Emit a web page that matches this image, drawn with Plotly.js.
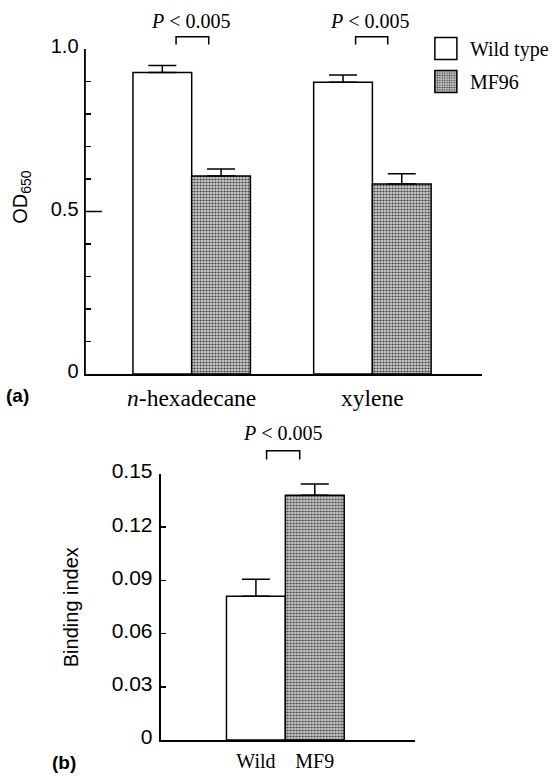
<!DOCTYPE html>
<html>
<head>
<meta charset="utf-8">
<script src="https://cdn.plot.ly/plotly-3.0.1.min.js"></script>
<style>html,body{margin:0;padding:0;background:#fff;}#chart{width:554px;height:776px;}</style>
</head>
<body>
<div id="chart"></div>
<script>
// ---- data ----
const categoriesA = ['n-hexadecane', 'xylene'];
const tickLabelsA = ['<i>n</i>-hexadecane', 'xylene'];
const wildA = [0.928, 0.898];
const wildErrA = [0.021, 0.022];
const mf96A = [0.609, 0.585];
const mf96ErrA = [0.022, 0.031];
const yTicksA = [0, 0.5, 1.0];
const yTickTextA = ['0', '0.5', '1.0'];

const categoriesB = ['Wild', 'MF9'];
const valuesB = [0.081, 0.138];
const errB = [0.0096, 0.0064];
const yTicksB = [0, 0.03, 0.06, 0.09, 0.12, 0.15];
const yTickTextB = ['0', '0.03', '0.06', '0.09', '0.12', '0.15'];

// ---- helpers ----
const W = 554, H = 776;
const px = x => x / W;
const py = y => 1 - y / H;
const SERIF = 'Liberation Serif, Times New Roman, serif';
const SANS = 'Liberation Sans, Arial, sans-serif';
const GRAY_FG = '#3c3c3c', GRAY_BG = '#cdcdcd';
const PATTERN = {shape: '.', fgcolor: GRAY_FG, bgcolor: GRAY_BG, size: 3, solidity: 0.38};

const errStyle = (arr) => ({type: 'data', array: arr, arrayminus: arr.map(() => 0), symmetric: false,
  color: '#000', thickness: 1.5, width: 14});

const whiteMarker = {color: '#fff', line: {color: '#000', width: 1.5}};
const grayMarker = {color: GRAY_BG, line: {color: '#000', width: 1.5}, pattern: PATTERN};

const traces = [
  {type: 'bar', name: 'Wild type', x: categoriesA, y: wildA, xaxis: 'x', yaxis: 'y',
   marker: whiteMarker, error_y: errStyle(wildErrA), legendgroup: 'a'},
  {type: 'bar', name: 'MF96', x: categoriesA, y: mf96A, xaxis: 'x', yaxis: 'y',
   marker: grayMarker, error_y: errStyle(mf96ErrA), legendgroup: 'b'},
  {type: 'bar', x: [categoriesB[0]], y: [valuesB[0]], xaxis: 'x2', yaxis: 'y2', width: 1,
   offsetgroup: 'bottom', showlegend: false, marker: whiteMarker, error_y: errStyle([errB[0]])},
  {type: 'bar', x: [categoriesB[1]], y: [valuesB[1]], xaxis: 'x2', yaxis: 'y2', width: 1,
   offsetgroup: 'bottom', showlegend: false, marker: grayMarker, error_y: errStyle([errB[1]])}
];

const axLine = {showline: true, linecolor: '#000', linewidth: 1.5, showgrid: false, zeroline: false, fixedrange: true};

const bracket = (x0, x1, yTop, yBot) => ({type: 'path', xref: 'paper', yref: 'paper',
  path: `M${px(x0)},${py(yBot)} L${px(x0)},${py(yTop)} L${px(x1)},${py(yTop)} L${px(x1)},${py(yBot)}`,
  line: {color: '#000', width: 1.5}});

// vertical axis line along the left edge of a subplot
const yLine = (xr, yr) => ({type: 'line', xref: xr + ' domain', yref: yr + ' domain',
  x0: 0, x1: 0, y0: 0, y1: 1, line: {color: '#000', width: 1.5}});

const ann = (x, y, text, font, extra) => Object.assign({xref: 'paper', yref: 'paper', x: px(x), y: py(y),
  xanchor: 'center', yanchor: 'middle', showarrow: false, text: text, font: font}, extra || {});

const layout = {
  width: W, height: H, margin: {l: 0, r: 0, t: 0, b: 0},
  paper_bgcolor: '#fff', plot_bgcolor: 'rgba(0,0,0,0)',
  barmode: 'group', bargap: 0.35, bargroupgap: 0,
  showlegend: true,
  legend: {x: px(426.5), y: py(29), xanchor: 'left', yanchor: 'top', bgcolor: 'rgba(0,0,0,0)',
    font: {family: SERIF, size: 20, color: '#000'}, traceorder: 'grouped', tracegroupgap: 4, itemwidth: 38},
  xaxis: Object.assign({}, axLine, {domain: [px(86), px(487)], anchor: 'y', type: 'category',
    range: [-0.59, 1.605], tickvals: categoriesA, ticktext: tickLabelsA, ticks: '',
    tickfont: {family: SERIF, size: 23.5, color: '#000'}, ticklabelstandoff: 2}),
  yaxis: Object.assign({}, axLine, {domain: [py(374), py(49)], anchor: 'x', range: [0, 1],
    tickvals: yTicksA, ticktext: yTickTextA, ticks: 'inside', ticklen: 6, tickwidth: 1.5, tickcolor: '#000',
    minor: {dtick: 0.1, tick0: 0, ticks: 'inside', ticklen: 6, tickwidth: 1.2, tickcolor: '#000'},
    tickfont: {family: SANS, size: 20, color: '#000'}, ticklabelstandoff: 1, ticklabelshift: -3}),
  xaxis2: Object.assign({}, axLine, {domain: [px(162), px(420)], anchor: 'y2', type: 'category',
    range: [-1.625, 2.71], tickvals: categoriesB, ticktext: categoriesB, ticks: '',
    tickfont: {family: SERIF, size: 20, color: '#000'}, ticklabelstandoff: 2}),
  yaxis2: Object.assign({}, axLine, {domain: [py(740), py(474)], anchor: 'x2', range: [0, 0.15],
    tickvals: yTicksB, ticktext: yTickTextB, ticks: 'inside', ticklen: 6, tickwidth: 1.5, tickcolor: '#000',
    tickfont: {family: SANS, size: 21, color: '#000'}, ticklabelstandoff: 2, ticklabelshift: -3}),
  shapes: [
    bracket(178, 211, 36.7, 44.5),
    bracket(359.5, 392, 36.7, 44.5),
    bracket(269.5, 303, 450.7, 459.5),
    yLine('x', 'y'),
    yLine('x2', 'y2'),
    // longer major tick at 0.5
    {type: 'line', xref: 'x domain', yref: 'y', x0: 0, x1: 17 / (487 - 86), y0: 0.5, y1: 0.5,
     line: {color: '#000', width: 1.5}}
  ],
  annotations: [
    ann(193, 21, '<i>P</i> &lt; 0.005', {family: SERIF, size: 20, color: '#000'}),
    ann(374, 21, '<i>P</i> &lt; 0.005', {family: SERIF, size: 20, color: '#000'}),
    ann(286, 433, '<i>P</i> &lt; 0.005', {family: SERIF, size: 20, color: '#000'}),
    ann(18, 395, '<b>(a)</b>', {family: SANS, size: 19, color: '#000'}),
    ann(65, 762, '<b>(b)</b>', {family: SANS, size: 19, color: '#000'}),
    ann(21, 197, 'OD<sub>650</sub>', {family: SANS, size: 20, color: '#000'}, {textangle: -90}),
    ann(72, 607, 'Binding index', {family: SANS, size: 20, color: '#000'}, {textangle: -90})
  ]
};

Plotly.newPlot('chart', traces, layout, {displayModeBar: false, staticPlot: true}).then(() => {
  document.querySelectorAll('.legend .legendpoints path').forEach(p => {
    p.setAttribute('d', 'M11,11H-11V-11H11Z');
  });
});
</script>
</body>
</html>
